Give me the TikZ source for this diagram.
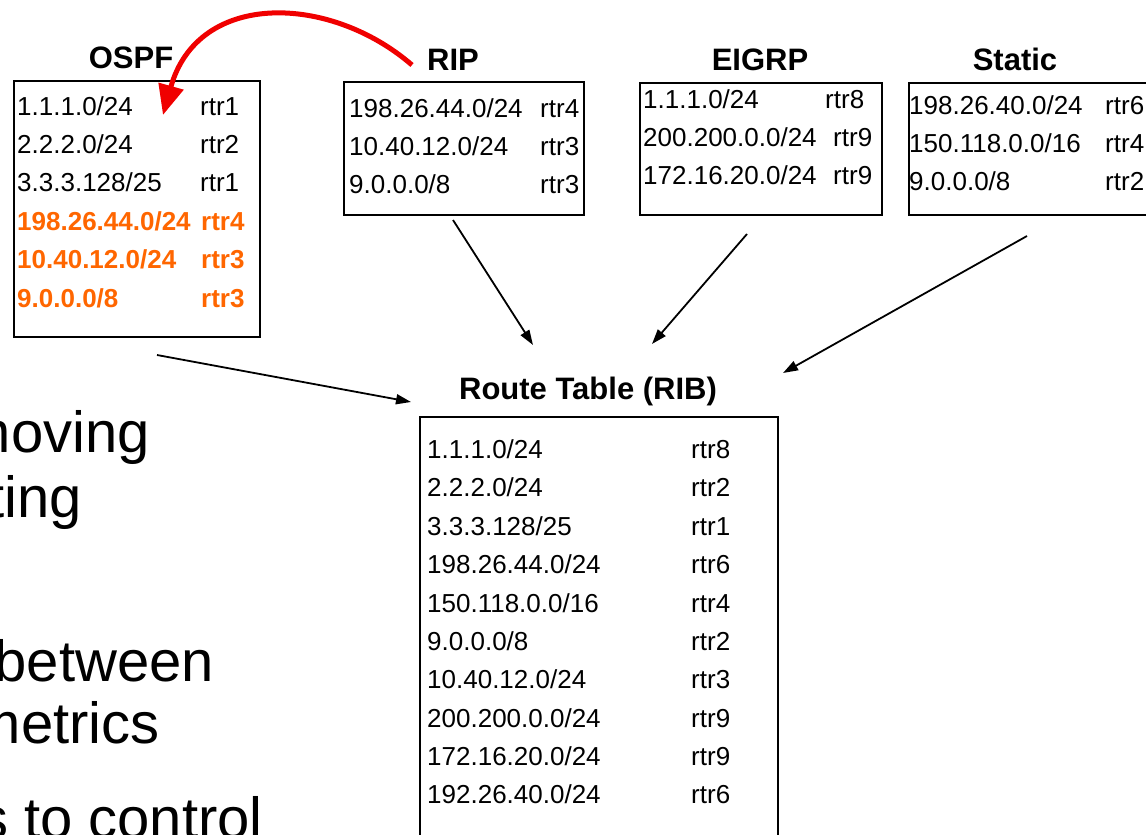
\documentclass[tikz,border=0pt]{standalone}
\usepackage{fontspec}
\setmainfont{Liberation Sans}
\usetikzlibrary{arrows.meta}
\definecolor{rteorange}{RGB}{255,102,0}
\definecolor{rtered}{RGB}{240,0,0}
\begin{document}
\begin{tikzpicture}[x=1pt,y=-1pt,
 tbox/.style={draw=black,line width=1.7pt,inner sep=0pt,anchor=north west},
 cell/.style={inner sep=0pt,anchor=base west,font=\fontsize{26}{30}\selectfont},
 hot/.style={inner sep=0pt,anchor=base west,text=rteorange,font=\fontsize{26}{30}\selectfont\bfseries},
 ttl/.style={inner sep=0pt,anchor=base,font=\fontsize{31}{36}\selectfont\bfseries},
 big/.style={inner sep=0pt,anchor=base east,font=\fontsize{58}{66}\selectfont},
 feed/.style={line width=1.8pt,-{Triangle[length=15pt,width=10pt]}},
 redist/.style={draw=rtered,line width=5pt,-{Triangle[length=30pt,width=25pt]}}]
\useasboundingbox (0,0) rectangle (1146,835);
\clip (0,0) rectangle (1146,835);

% left slide text (partly cut off)
\node[big] (t1) at (150,452) {moving};
\node[big] (t2) at (82,517) {ting};
\node[big] (t3) at (214,681) {between};
\node[big] (t4) at (160,743) {metrics};
\node[big] (t5) at (263,838) {s to control};

% OSPF
\node[ttl] (ospft) at (131,68) {OSPF};
\node[tbox,minimum width=246pt,minimum height=256pt] (ospf) at (13,80) {};
\node[cell] (o1a) at (17,115) {1.1.1.0/24};   \node[cell] (o1b) at (200,115) {rtr1};
\node[cell] (o2a) at (17,153) {2.2.2.0/24};   \node[cell] (o2b) at (200,153) {rtr2};
\node[cell] (o3a) at (17,191) {3.3.3.128/25}; \node[cell] (o3b) at (200,191) {rtr1};
\node[hot] (o4a) at (17,230) {198.26.44.0/24}; \node[hot] (o4b) at (201,230) {rtr4};
\node[hot] (o5a) at (17,268) {10.40.12.0/24};  \node[hot] (o5b) at (201,268) {rtr3};
\node[hot] (o6a) at (17,307) {9.0.0.0/8};      \node[hot] (o6b) at (201,307) {rtr3};

% RIP
\node[ttl] (ript) at (453,70) {RIP};
\node[tbox,minimum width=240pt,minimum height=133pt] (rip) at (343,81) {};
\node[cell] (r1a) at (349,117) {198.26.44.0/24}; \node[cell] (r1b) at (540,117) {rtr4};
\node[cell] (r2a) at (349,155) {10.40.12.0/24};  \node[cell] (r2b) at (540,155) {rtr3};
\node[cell] (r3a) at (349,193) {9.0.0.0/8};      \node[cell] (r3b) at (540,193) {rtr3};

% EIGRP
\node[ttl] (eigrpt) at (760,70) {EIGRP};
\node[tbox,minimum width=242pt,minimum height=132pt] (eigrp) at (639,82) {};
\node[cell] (e1a) at (643,108) {1.1.1.0/24};     \node[cell] (e1b) at (825,108) {rtr8};
\node[cell] (e2a) at (643,146) {200.200.0.0/24}; \node[cell] (e2b) at (833,146) {rtr9};
\node[cell] (e3a) at (643,184) {172.16.20.0/24}; \node[cell] (e3b) at (833,184) {rtr9};

% Static
\node[ttl] (statict) at (1015,70) {Static};
\node[tbox,minimum width=260pt,minimum height=132pt] (static) at (908,82) {};
\node[cell] (s1a) at (909,114) {198.26.40.0/24}; \node[cell] (s1b) at (1105,114) {rtr6};
\node[cell] (s2a) at (909,152) {150.118.0.0/16}; \node[cell] (s2b) at (1105,152) {rtr4};
\node[cell] (s3a) at (909,190) {9.0.0.0/8};      \node[cell] (s3b) at (1105,190) {rtr2};

% Route table
\node[ttl] (ribt) at (588,399) {Route Table (RIB)};
\node[tbox,minimum width=358pt,minimum height=460pt] (rib) at (419,416) {};
\node[cell] (b1a) at (427,458) {1.1.1.0/24};      \node[cell] (b1b) at (691,458) {rtr8};
\node[cell] (b2a) at (427,496) {2.2.2.0/24};      \node[cell] (b2b) at (691,496) {rtr2};
\node[cell] (b3a) at (427,535) {3.3.3.128/25};    \node[cell] (b3b) at (691,535) {rtr1};
\node[cell] (b4a) at (427,573) {198.26.44.0/24};  \node[cell] (b4b) at (691,573) {rtr6};
\node[cell] (b5a) at (427,612) {150.118.0.0/16};  \node[cell] (b5b) at (691,612) {rtr4};
\node[cell] (b6a) at (427,650) {9.0.0.0/8};       \node[cell] (b6b) at (691,650) {rtr2};
\node[cell] (b7a) at (427,688) {10.40.12.0/24};   \node[cell] (b7b) at (691,688) {rtr3};
\node[cell] (b8a) at (427,727) {200.200.0.0/24};  \node[cell] (b8b) at (691,727) {rtr9};
\node[cell] (b9a) at (427,765) {172.16.20.0/24};  \node[cell] (b9b) at (691,765) {rtr9};
\node[cell] (b10a) at (427,803) {192.26.40.0/24}; \node[cell] (b10b) at (691,803) {rtr6};

% connector end points
\coordinate (ospfout) at (157,355);
\coordinate (ospfin)  at (411,402);
\coordinate (ripout)  at (453,220);
\coordinate (ripin)   at (533,345);
\coordinate (eigout)  at (747,234);
\coordinate (eigin)   at (652,344);
\coordinate (statout) at (1027,236);
\coordinate (statin)  at (783,373);
\coordinate (redfrom) at (412,65);
\coordinate (redto)   at (163,115);

\draw[feed] (ospfout) -- (ospfin);
\draw[feed] (ripout) -- (ripin);
\draw[feed] (eigout) -- (eigin);
\draw[feed] (statout) -- (statin);
\draw[redist] (redfrom) .. controls (330,-6) and (198,-10) .. (redto);
\end{tikzpicture}
\end{document}
